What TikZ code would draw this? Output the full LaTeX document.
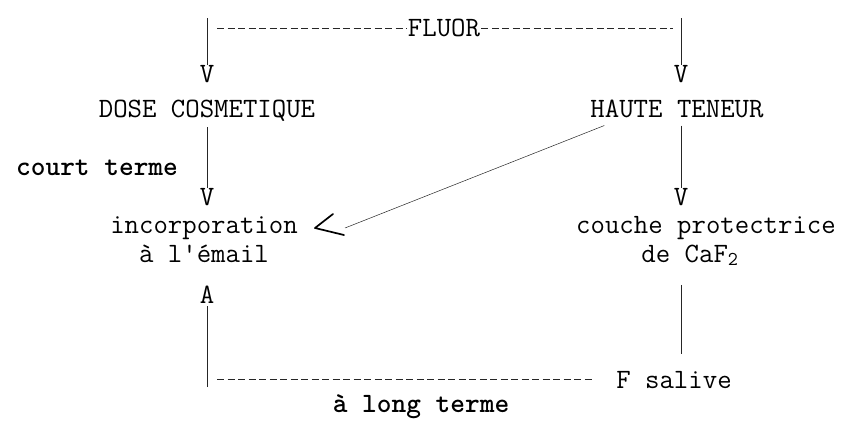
\documentclass[tikz,border=0pt]{standalone}
\usepackage{fontspec}
\usetikzlibrary{positioning}
\tikzset{
  tw/.style={font=\ttfamily\fontsize{28}{31}\selectfont, inner sep=0pt, anchor=base},
  twb/.style={tw, font=\ttfamily\bfseries\fontsize{28}{31}\selectfont},
  tline/.style={line width=0.6pt, black!85},
  dline/.style={tline, dash pattern=on 7pt off 3.5pt},
  handtip/.style={line width=1.7pt, line cap=round, line join=round},
}
\begin{document}
\begin{tikzpicture}[x=1pt, y=-1pt]
\useasboundingbox (0,0) rectangle (851,423);

% Haut : FLUOR
\node[tw] (fluor) at (444,36) {FLUOR};
\coordinate (tl) at (207,18);
\coordinate (tr) at (681,18);
\coordinate (dl) at (217,28);
\coordinate (dr) at (673,28);
\node[tw] (vtl) at (207,82) {V};
\node[tw] (vtr) at (681,82) {V};
\draw[tline] (tl) -- (vtl.north);
\draw[tline] (tr) -- (vtr.north);
\draw[dline] (dl) -- ([xshift=-1pt]fluor.west |- dl);
\draw[dline] ([xshift=1pt]fluor.east |- dr) -- (dr);

% Deux doses
\node[tw] (dose) at (207,117) {DOSE COSMETIQUE};
\node[tw] (haute) at (677,117) {HAUTE TENEUR};
\node[twb] (court) at (97,175) {court terme};
\node[tw] (vml) at (207,205) {V};
\node[tw] (vmr) at (681,205) {V};
\draw[tline, shorten <=6pt] (dose.south) -- (vml.north);
\draw[tline, shorten <=8pt] (haute.south -| vmr) -- (vmr.north);

% Effets
\node[tw] (inc) at (204,233) {incorporation};
\node[tw] (email) at (204,262) {à l'émail};
\node[tw] (couche) at (706,233) {couche protectrice};
\node[tw] (caf) at (690,262) {de CaF\textsubscript{2}};

% Fleche a main levee
\coordinate (tip) at (315,228);
\coordinate (incend) at (345,228);
\draw[tline, line width=0.5pt] ([xshift=14pt, yshift=-8pt]haute.south west) -- (incend);
\draw[handtip] (tip) ++(18,-14) -- (tip) -- ++(29,7);

% Bas : F salive
\node[tw] (aup) at (207,303) {A};
\coordinate (bl) at (207,387);
\draw[tline, shorten >=3pt] (bl) -- (aup.south);
\node[tw] (fsal) at (674,388) {F salive};
\draw[tline, shorten <=19pt, shorten >=17pt] (caf.south -| vmr) -- (fsal.north -| vmr);
\coordinate (bd) at (217,379);
\coordinate (be) at (594,379);
\draw[dline] (bd) -- (be);
\node[twb] (long) at (421,412) {à long terme};

\end{tikzpicture}
\end{document}
